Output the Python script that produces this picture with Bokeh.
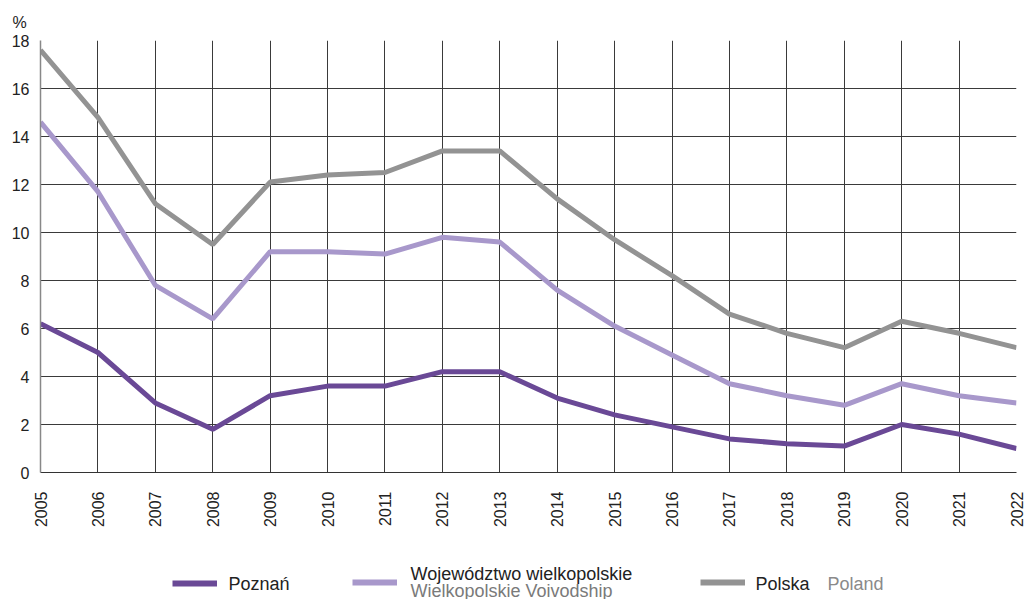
from bokeh.plotting import figure
from bokeh.models import Range1d, FixedTicker, Label, Legend, LegendItem
from bokeh.layouts import column
from bokeh.embed import file_html
from bokeh.resources import INLINE
import math

years = list(range(2005, 2023))
poznan = [6.2, 5.0, 2.9, 1.8, 3.2, 3.6, 3.6, 4.2, 4.2, 3.1, 2.4, 1.9, 1.4, 1.2, 1.1, 2.0, 1.6, 1.0]
wielkopolskie = [14.6, 11.7, 7.8, 6.4, 9.2, 9.2, 9.1, 9.8, 9.6, 7.6, 6.1, 4.9, 3.7, 3.2, 2.8, 3.7, 3.2, 2.9]
polska = [17.6, 14.8, 11.2, 9.5, 12.1, 12.4, 12.5, 13.4, 13.4, 11.4, 9.7, 8.2, 6.6, 5.8, 5.2, 6.3, 5.8, 5.2]
y_ticks = [0, 2, 4, 6, 8, 10, 12, 14, 16, 18]

C_POZ = "#6a4996"
C_WLK = "#a898cb"
C_POL = "#939393"
FONT = "Liberation Sans"
W = 1024
FL, FR = 40, 1016

p = figure(width=W, height=542, output_backend="svg", toolbar_location=None,
           x_range=Range1d(2005, 2022), y_range=Range1d(0, 18),
           min_border_left=FL, min_border_right=W - FR, min_border_top=40, min_border_bottom=70)
p.outline_line_color = None
p.title.text = "%"
p.title.text_font = FONT
p.title.text_font_size = "16px"
p.title.text_font_style = "normal"
p.title.text_color = "#222222"
p.title.align = "left"
p.title.offset = -28
p.title.standoff = 20

p.xaxis.ticker = FixedTicker(ticks=years)
p.yaxis.ticker = FixedTicker(ticks=y_ticks)
p.xgrid.ticker = FixedTicker(ticks=years[1:])
p.xaxis.major_label_orientation = math.pi / 2
for ax in (p.xaxis, p.yaxis):
    ax.major_tick_line_color = None
    ax.minor_tick_line_color = None
    ax.major_label_text_font = FONT
    ax.major_label_text_font_size = "16px"
    ax.major_label_text_color = "#222222"
p.xaxis.axis_line_color = "#333333"
p.yaxis.axis_line_color = "#888888"
p.yaxis.axis_line_width = 1.5
p.xaxis.major_label_standoff = 13
p.yaxis.major_label_standoff = 5
for g in (p.xgrid, p.ygrid):
    g.grid_line_color = "#3a3a3a"
    g.grid_line_width = 1
    g.grid_line_alpha = 1

p.line(years, polska, line_color=C_POL, line_width=5)
p.line(years, wielkopolskie, line_color=C_WLK, line_width=5)
p.line(years, poznan, line_color=C_POZ, line_width=5)

# legend strip (frame aligned with the main plot frame by the column layout)
LH = 57
TOP = 542
q = figure(width=W, height=LH, output_backend="svg", toolbar_location=None,
           x_range=Range1d(FL, FR), y_range=Range1d(TOP + LH, TOP),
           min_border=0, x_axis_type=None, y_axis_type=None)
q.outline_line_color = None
q.xgrid.visible = False
q.ygrid.visible = False

def add_leg(xs, ys, color, sx, sy):
    # series drawn again here only to provide legend glyphs (outside this strip's view)
    r = q.line(xs, ys, line_color=color, line_width=6)
    leg = Legend(items=[LegendItem(label=" ", renderers=[r])],
                 location=(sx - FL, TOP + LH - sy - 5),
                 glyph_width=45, glyph_height=10, padding=0, margin=0, spacing=0,
                 border_line_color=None, background_fill_alpha=0, label_width=1,
                 label_standoff=0, label_height=10, label_text_font_size="10px")
    q.add_layout(leg)

add_leg(years, poznan, C_POZ, 172, 583)
add_leg(years, wielkopolskie, C_WLK, 352, 582)
add_leg(years, polska, C_POL, 700, 582)

def lab(sx, sy, text, color="#222222"):
    q.add_layout(Label(x=sx, y=sy, text=text, text_font=FONT,
                       text_font_size="18px", text_color=color, text_baseline="middle"))

lab(228, 583, "Poznań")
lab(410, 573, "Województwo wielkopolskie")
lab(410, 590, "Wielkopolskie Voivodship", "#7a7a7a")
lab(755, 583, "Polska")
lab(827, 583, "Poland", "#8a8a8a")

layout = column(p, q, spacing=0)
open("out.html", "w").write(file_html(layout, INLINE))
